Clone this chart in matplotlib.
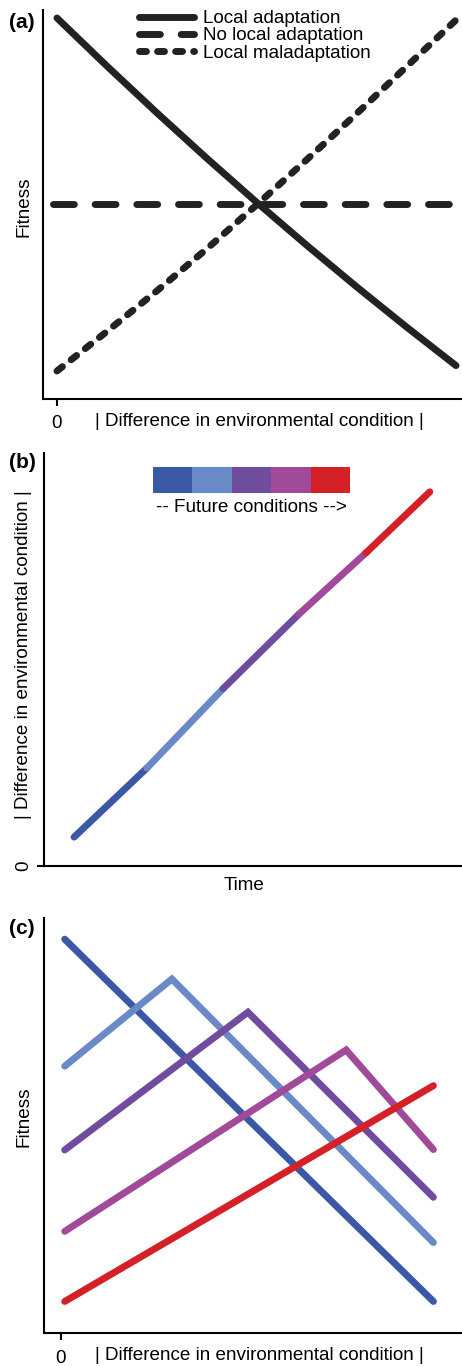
import numpy as np
import matplotlib
matplotlib.use('Agg')
import matplotlib.pyplot as plt
from matplotlib.colors import ListedColormap

plt.rcParams['font.family'] = ['Liberation Sans', 'DejaVu Sans']
plt.rcParams['font.size'] = 13.6

W, H = 462, 1366
ink = '#222222'
future_colors = ['#3A58A6', '#6A8AC7', '#6F4C9E', '#A24A9A', '#D42127']

# (a) fitness vs |difference in environment|
diff_a = [0, 0.125, 0.25, 0.375, 0.5, 0.625, 0.75, 0.875, 1.0]
fit_local = [381, 333, 286.3, 240.9, 196.8, 154, 112.5, 72.3, 33.4]
fit_maladapt = [28, 67.5, 108, 150, 194, 239, 285, 332, 379]
fit_none = 195
diff_none = [-0.01, 1.02]

# (b) environmental difference through time, coloured by period
time_b = [0.72, 2.46, 4.28, 6.10, 7.70, 9.23]
diff_b = [0.70, 2.37, 4.29, 6.10, 7.58, 9.06]

# (c) fitness curves for each future period
diff_c = [
    [0.1, 9.9],
    [0.1, 2.95, 9.9],
    [0.1, 4.97, 9.9],
    [0.1, 7.58, 9.9],
    [0.1, 9.9],
]
fit_c = [
    [94.9, 7.6],
    [64.3, 85.3, 21.8],
    [44.1, 77.3, 32.7],
    [24.5, 68.2, 44.2],
    [7.6, 59.6],
]


def px_axes(left, top, right, bottom):
    return fig.add_axes([left / W, 1 - bottom / H, (right - left) / W, (bottom - top) / H])


def style(ax):
    for s in ['top', 'right']:
        ax.spines[s].set_visible(False)
    for s in ['left', 'bottom']:
        ax.spines[s].set_linewidth(1.5)
        ax.spines[s].set_color('black')


fig = plt.figure(figsize=(W / 100, H / 100), dpi=100)

# ---- panel (a)
ax = px_axes(43, 10, 462, 399)
style(ax)
ax.plot(diff_a, fit_local, color=ink, lw=5, solid_capstyle='round',
        label='Local adaptation')
ax.plot(diff_none, [fit_none, fit_none], color=ink, lw=5, ls=(0, (3, 3)),
        dash_capstyle='round', label='No local adaptation')
ax.plot(diff_a, fit_maladapt, color=ink, lw=5, ls=(0, (1, 1.6)),
        dash_capstyle='round', label='Local maladaptation')
ax.set_xlim(-0.035, 1.015)
ax.set_ylim(0, 389)
ax.set_xticks([0])
ax.set_xticklabels(['0'])
ax.set_yticks([])
ax.tick_params(axis='x', length=5, width=1.5, pad=6.5)
ax.set_xlabel('| Difference in environmental condition |', va='center')
ax.xaxis.set_label_coords((259 - 43) / 419, -(421 - 399) / 389)
ax.set_ylabel('Fitness', va='center')
ax.yaxis.set_label_coords((24 - 43) / 419, 1 - (207 - 10) / 389)
ax.legend(loc='upper left', bbox_to_anchor=(139 / W, 1 - 10 / H),
          bbox_transform=fig.transFigure, frameon=False, handlelength=2.9,
          handletextpad=0.5, labelspacing=0.0, borderpad=0, borderaxespad=0)

# ---- panel (b)
ax = px_axes(44, 453, 462, 866)
style(ax)
for i in range(5):
    ax.plot(time_b[i:i + 2], diff_b[i:i + 2], color=future_colors[i], lw=5,
            solid_capstyle='round')
ax.set_xlim(0, 10)
ax.set_ylim(0, 10)
ax.set_xticks([])
ax.set_yticks([0])
ax.set_yticklabels(['0'], rotation=90, va='center')
ax.tick_params(axis='y', length=5, width=1.5, pad=3.5)
ax.set_xlabel('Time', va='center')
ax.xaxis.set_label_coords((244 - 44) / 418, -(885 - 866) / 413)
ax.set_ylabel('| Difference in environmental condition |', va='center')
ax.yaxis.set_label_coords((24 - 44) / 418, 1 - (655 - 453) / 413)

cax = px_axes(153, 467, 350, 493)
cax.imshow(np.arange(5).reshape(1, 5), cmap=ListedColormap(future_colors),
           aspect='auto')
cax.axis('off')
fig.text(251 / W, 1 - 507 / H, '-- Future conditions -->', ha='center', va='center')

# ---- panel (c)
ax = px_axes(44, 918, 462, 1333)
style(ax)
for xs, ys, c in zip(diff_c, fit_c, future_colors):
    ax.plot(xs, ys, color=c, lw=5, solid_capstyle='round', solid_joinstyle='miter')
ax.set_xlim(-0.45, 10.66)
ax.set_ylim(0, 100)
ax.set_xticks([0])
ax.set_xticklabels(['0'])
ax.set_yticks([])
ax.tick_params(axis='x', length=5, width=1.5, pad=7)
ax.set_xlabel('| Difference in environmental condition |', va='center')
ax.xaxis.set_label_coords((259 - 44) / 418, -(1356 - 1333) / 415)
ax.set_ylabel('Fitness', va='center')
ax.yaxis.set_label_coords((24 - 44) / 418, 1 - (1117 - 918) / 415)

# panel letters
for lab, y in [('(a)', 22), ('(b)', 462), ('(c)', 929)]:
    fig.text(22 / W, 1 - y / H, lab, ha='center', va='center',
             fontsize=15, fontweight='bold')

fig.savefig('out.png', dpi=100)
